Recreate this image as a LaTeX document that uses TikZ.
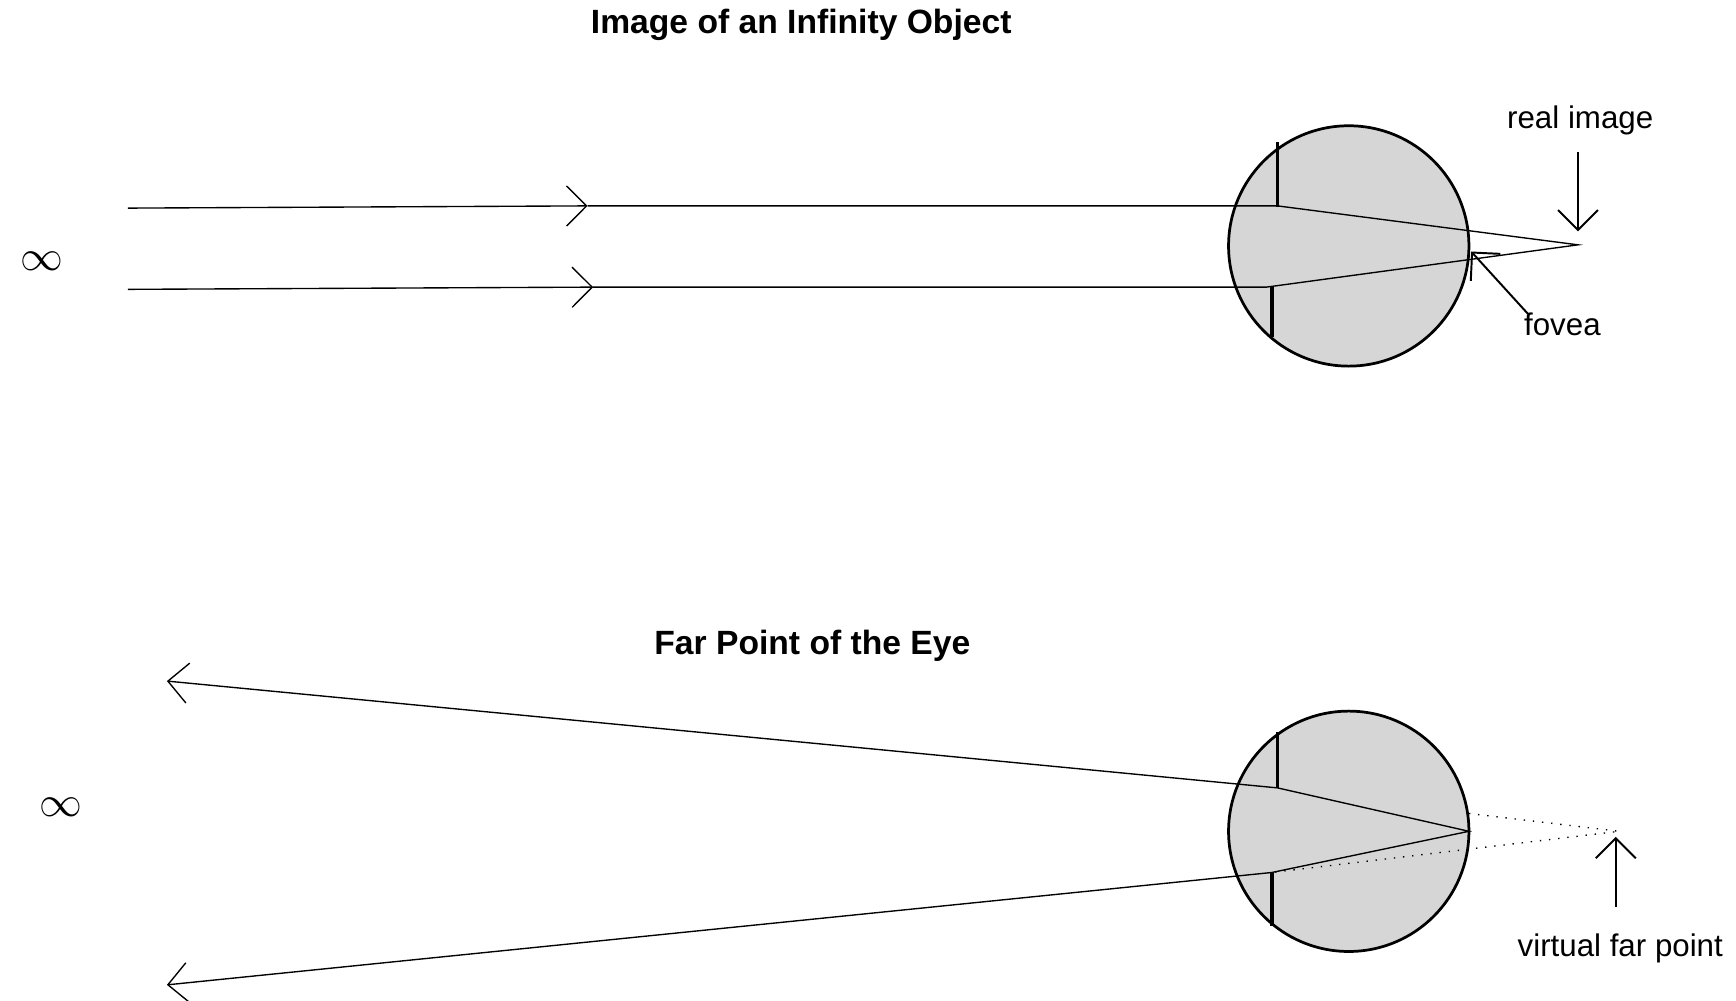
\documentclass[tikz,border=0pt]{standalone}
\usepackage{fontspec}
\setmainfont{Liberation Sans}
\usetikzlibrary{arrows.meta}
\begin{document}
\begin{tikzpicture}[x=0.1mm,y=-0.1mm,
  ray/.style={line width=0.35pt},
  arr/.style={ray,-{Straight Barb[length=1.8mm,width=3.6mm]}},
  eye/.style={fill=black!16,draw,line width=0.7pt},
  lens/.style={line width=0.9pt},
  dot/.style={line width=0.35pt,dotted},
  lbl/.style={font=\fontsize{8}{10}\selectfont},
  ttl/.style={font=\fontsize{8.6}{10}\selectfont\bfseries}]
\useasboundingbox (0,0) rectangle (1560,899);
% top
\node[ttl] (t1) at (720,22) {Image of an Infinity Object};
\node[lbl,font=\fontsize{11}{12}\selectfont] (inf1) at (38,235) {$\infty$};
\node[circle,eye,minimum size=21.6mm,inner sep=0pt] (e1) at (1212,221) {};
\coordinate (a1) at (115,187); \coordinate (b1) at (528,185);
\coordinate (c1) at (1148,185); \coordinate (f1) at (1418,220);
\coordinate (a2) at (115,260); \coordinate (b2) at (533,258);
\coordinate (c2) at (1138,258);
\draw[arr] (a1) -- (b1);
\draw[ray] (b1) -- (c1) -- (f1) -- (c2) -- (b2);
\draw[arr] (a2) -- (b2);
\draw[lens] (1148,128) -- (1148,186);
\draw[lens] (1143,258) -- (1143,303);
\node[lbl] (ri) at (1420,108) {real image};
\coordinate (ri1) at (1418,137); \coordinate (ri2) at (1418,208);
\draw[arr,line width=0.5pt] (ri1) -- (ri2);
\node[lbl] (fov) at (1404,291) {fovea};
\coordinate (fv1) at (1373,282); \coordinate (fv2) at (1322,226);
\draw[arr,line width=0.5pt] (fv1) -- (fv2);
% bottom
\node[ttl] (t2) at (730,580) {Far Point of the Eye};
\node[lbl,font=\fontsize{11}{12}\selectfont] (inf2) at (55,725) {$\infty$};
\node[circle,eye,minimum size=21.6mm,inner sep=0pt] (e2) at (1212,747) {};
\coordinate (p1) at (1148,708); \coordinate (p2) at (1143,784);
\coordinate (q1) at (150,612); \coordinate (q2) at (150,885);
\coordinate (fo) at (1320,747); \coordinate (vf) at (1455,747);
\coordinate (ed) at (1320,731);
\draw[arr] (p1) -- (q1);
\draw[arr] (p2) -- (q2);
\draw[ray] (p1) -- (fo) -- (p2);
\draw[dot] (ed) -- (vf) -- (p2);
\draw[lens] (1148,658) -- (1148,708);
\draw[lens] (1143,784) -- (1143,832);
\node[lbl] (vfp) at (1456,852) {virtual far point};
\coordinate (v1) at (1452,815); \coordinate (v2) at (1452,752);
\draw[arr,line width=0.5pt] (v1) -- (v2);
\end{tikzpicture}
\end{document}
